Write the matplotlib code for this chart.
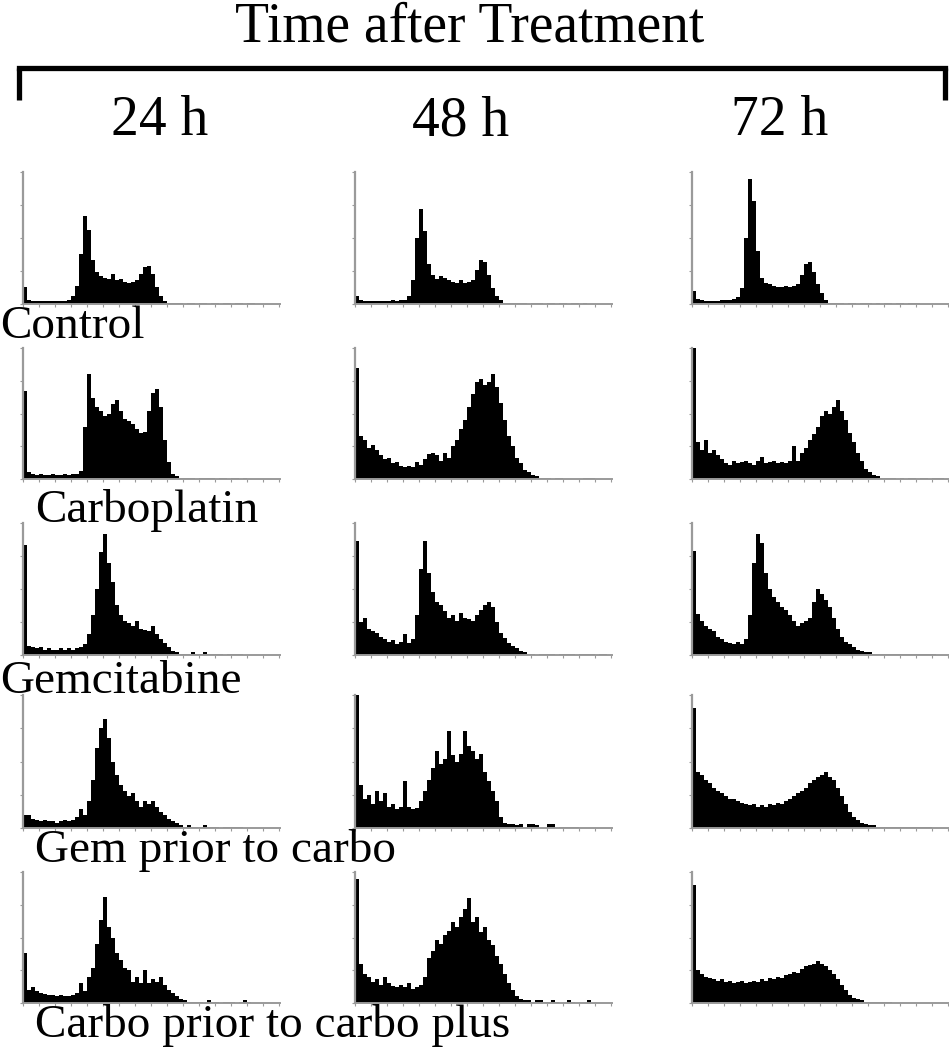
import numpy as np
import matplotlib
matplotlib.use("Agg")
import matplotlib.pyplot as plt
from matplotlib.lines import Line2D

# ---------------- data (percent of axis height per 4-channel bin) ----------------
title = "Time after Treatment"
times = ["24 h", "48 h", "72 h"]
treatments = ["Control", "Carboplatin", "Gemcitabine", "Gem prior to carbo",
              "Carbo prior to carbo plus"]
BIN = 4

control_24 = [13, 3, 2, 2, 2, 2, 2, 2, 2, 2, 2, 3, 6, 14, 38, 67, 56, 33, 24, 21, 20, 19, 23, 18,
              19, 17, 16, 17, 18, 23, 28, 29, 23, 13, 6, 2, 1, 1,
              1, 1, 0, 1, 1, 0, 1, 1, 0, 1, 1, 0, 1, 1, 0, 1, 1, 0, 1, 1, 0, 0, 0, 0, 0, 0]
control_48 = [6, 3, 2, 2, 2, 2, 2, 2, 2, 3, 2, 3, 3, 6, 18, 50, 72, 55, 30, 22, 19, 21, 20, 18,
              17, 16, 18, 16, 17, 18, 26, 33, 32, 22, 12, 6, 3, 1,
              1, 1, 1, 1, 1, 0, 1, 1, 1, 0, 1, 1, 0, 1, 1, 0, 1, 1, 0, 1, 0, 0, 0, 0, 0, 0]
control_72 = [10, 4, 3, 2, 2, 2, 2, 3, 3, 3, 4, 5, 12, 50, 95, 78, 40, 20, 16, 15, 14, 13, 13, 14,
              13, 14, 15, 22, 30, 32, 24, 15, 8, 3, 1, 1,
              1, 1, 0, 1, 1, 0, 1, 1, 1, 0, 1, 0, 1, 1, 0, 1, 1, 0, 1, 1, 1, 0, 0, 0, 0, 0, 0, 0]

carbo_24 = [67, 5, 4, 3, 4, 3, 3, 4, 3, 3, 4, 3, 4, 4, 6, 40, 80, 62, 55, 52, 48, 50, 57, 60,
            52, 46, 44, 42, 38, 35, 36, 52, 66, 69, 55, 30, 13, 4, 2,
            1, 1, 1, 1, 0, 1, 1, 1, 1, 0, 1, 1, 0, 1, 1, 0, 1, 0, 0, 0, 0, 0, 0, 0, 0]
carbo_48 = [85, 33, 30, 24, 26, 22, 18, 15, 16, 12, 13, 10, 9, 10, 9, 13, 11, 15, 19, 20, 18, 14,
            20, 16, 25, 30, 38, 45, 55, 65, 74, 76, 72, 74, 80, 70, 58, 45, 33, 25, 16, 12, 7,
            5, 3, 2,
            1, 1, 1, 0, 1, 1, 0, 0, 0, 0, 0, 1, 1, 1, 0, 0, 0, 0]
carbo_72 = [100, 28, 22, 30, 20, 22, 18, 15, 12, 11, 14, 12, 13, 14, 12, 11, 14, 17, 12, 13, 14,
            12, 13, 12, 14, 25, 14, 20, 24, 30, 34, 40, 48, 52, 50, 55, 60, 52, 45, 35, 28, 20,
            14, 8, 5, 3, 2,
            1, 1, 1, 1, 0, 1, 0, 1, 1, 0, 1, 1, 0, 1, 1, 1, 0]

gem_24 = [83, 7, 6, 5, 6, 4, 5, 4, 4, 5, 4, 5, 4, 5, 6, 8, 16, 30, 50, 78, 92, 70, 55, 38, 30,
          26, 24, 22, 26, 20, 19, 18, 22, 16, 12, 9, 6, 3, 2,
          1, 1, 1, 2, 1, 1, 2, 1, 1, 1, 1, 0, 1, 1, 1, 1, 0, 0, 0, 0, 0, 0, 0, 0, 0]
gem_48 = [86, 25, 28, 20, 18, 17, 14, 12, 10, 11, 8, 10, 16, 9, 12, 30, 65, 86, 62, 48, 40, 38,
          33, 28, 30, 26, 32, 28, 27, 26, 30, 34, 38, 40, 36, 25, 17, 13, 9, 7, 5, 3, 2,
          1, 1, 0, 1, 1, 1, 1, 0, 1, 1, 1, 1, 0, 1, 1, 1, 1, 0, 1, 1, 0]
gem_72 = [79, 31, 26, 22, 20, 18, 14, 12, 10, 9, 8, 10, 8, 12, 30, 70, 92, 85, 62, 50, 44, 40,
          36, 34, 30, 26, 22, 24, 26, 28, 40, 50, 46, 42, 36, 28, 20, 14, 10, 8, 6, 4, 3, 2, 2,
          1, 1, 1, 1, 1, 1, 1, 1, 1, 1, 1, 1, 1, 1, 1, 1, 0, 0, 0]

gemcarbo_24 = [10, 10, 7, 6, 5, 6, 5, 5, 4, 5, 6, 5, 6, 8, 14, 10, 20, 36, 60, 75, 82, 68, 50,
               40, 32, 28, 24, 26, 20, 16, 20, 18, 20, 16, 12, 10, 7, 5, 4, 2,
               1, 2, 1, 1, 1, 2, 1, 1, 1, 0, 1, 1, 1, 1, 1, 0, 0, 0, 0, 0, 0, 0, 0, 0]
gemcarbo_48 = [100, 32, 22, 25, 18, 28, 20, 26, 16, 18, 14, 16, 35, 16, 14, 15, 20, 28, 36, 45,
               58, 48, 52, 73, 55, 50, 56, 73, 62, 58, 52, 56, 42, 35, 28, 20, 8, 4, 3, 3, 2,
               3, 0, 3, 3, 2, 0, 0, 3, 3, 0, 1, 1, 1, 1, 1, 0, 0, 0, 0, 0, 0, 0, 0]
gemcarbo_72 = [90, 42, 40, 36, 34, 30, 28, 26, 24, 22, 22, 20, 19, 18, 17, 18, 16, 17, 16, 18,
               17, 19, 18, 20, 22, 24, 26, 28, 30, 34, 36, 38, 40, 42, 38, 36, 30, 24, 18, 12,
               8, 6, 4, 3, 2,
               2, 1, 1, 1, 1, 1, 1, 1, 1, 1, 1, 1, 1, 1, 1, 0, 0, 0, 0]

carbocarbo_24 = [38, 10, 12, 9, 8, 7, 6, 6, 5, 6, 5, 5, 6, 8, 15, 9, 20, 27, 45, 63, 81, 58, 50,
                 38, 33, 27, 25, 16, 20, 15, 25, 15, 18, 16, 20, 14, 10, 8, 5, 3, 2,
                 1, 1, 1, 1, 0, 2, 1, 1, 0, 1, 1, 1, 0, 1, 2, 1, 0, 0, 0, 0, 0, 0, 0]
carbocarbo_48 = [95, 30, 22, 20, 16, 18, 14, 20, 15, 13, 12, 14, 12, 15, 11, 12, 14, 20, 34, 40,
                 48, 45, 52, 55, 62, 58, 66, 72, 80, 62, 66, 54, 58, 48, 44, 36, 30, 22, 15,
                 10, 5, 3,
                 2, 2, 1, 2, 2, 1, 1, 2, 1, 0, 0, 2, 1, 0, 0, 0, 2, 0, 0, 0, 0, 0]
carbocarbo_72 = [90, 25, 22, 20, 19, 18, 17, 18, 16, 17, 15, 16, 17, 15, 16, 17, 16, 18, 17, 19,
                 18, 20, 19, 21, 22, 24, 23, 26, 28, 29, 30, 32, 30, 28, 25, 22, 18, 14, 10,
                 6, 4, 3, 2,
                 1, 1, 1, 1, 1, 1, 1, 0, 0, 0, 0, 0, 0, 0, 0, 0, 0, 0, 0, 0, 0]

grid = [[control_24, control_48, control_72],
        [carbo_24, carbo_48, carbo_72],
        [gem_24, gem_48, gem_72],
        [gemcarbo_24, gemcarbo_48, gemcarbo_72],
        [carbocarbo_24, carbocarbo_48, carbocarbo_72]]

# ---------------- layout (pixels) ----------------
W, H = 949, 1050
fig = plt.figure(figsize=(W / 100, H / 100), dpi=100)
fig.patch.set_facecolor("white")

col_left = [23, 355, 692]
axis_w = 257
rows_tb = [(172, 304), (348, 479), (523, 655), (695, 828), (872, 1003)]
label_pos = [(0, 338), (35, 522), (0, 693), (35, 862), (35, 1037)]
time_x = [160, 461, 780]

serif = ["Liberation Serif", "DejaVu Serif"]
grey = "#9a9a9a"

for r, (top, base) in enumerate(rows_tb):
    for c in range(3):
        vals = np.array(grid[r][c], dtype=float)
        edges = np.arange(len(vals) + 1) * BIN
        ax = fig.add_axes([col_left[c] / W, 1 - base / H, axis_w / W, (base - top) / H])
        ax.stairs(vals, edges, fill=True, color="black", linewidth=0)
        ax.set_xlim(0, axis_w)
        ax.set_ylim(0, 100)
        for s in ("top", "right"):
            ax.spines[s].set_visible(False)
        ax.spines["left"].set_color(grey)
        ax.spines["left"].set_linewidth(1.6)
        ax.spines["bottom"].set_color(grey)
        ax.spines["bottom"].set_linewidth(1.4)
        ax.set_yticks([0, 25, 50, 75, 100])
        ax.set_xticks(np.arange(0, axis_w, 16))
        ax.tick_params(axis="both", colors=grey, length=2.5, width=0.8,
                       labelleft=False, labelbottom=False)
        ax.patch.set_alpha(0)

# ---------------- texts ----------------
fig.text(470 / W, 1 - 42 / H, title, ha="center", va="baseline",
         fontsize=40, family=serif)
for x, t in zip(time_x, times):
    fig.text(x / W, 1 - 135 / H, t, ha="center", va="baseline", fontsize=40, family=serif)
for (x, y), t in zip(label_pos, treatments):
    fig.text(x / W, 1 - y / H, t, ha="left", va="baseline", fontsize=34, family=serif)

# bracket
bx0, bx1, by, byend = 19, 945, 68, 100
fig.add_artist(Line2D([bx0 / W, bx1 / W], [1 - by / H, 1 - by / H],
                      transform=fig.transFigure, color="black", linewidth=3.8,
                      solid_capstyle="projecting"))
for bx in (bx0, bx1):
    fig.add_artist(Line2D([bx / W, bx / W], [1 - by / H, 1 - byend / H],
                          transform=fig.transFigure, color="black", linewidth=3.8,
                          solid_capstyle="butt"))

fig.savefig("out.png", dpi=100, facecolor="white")
